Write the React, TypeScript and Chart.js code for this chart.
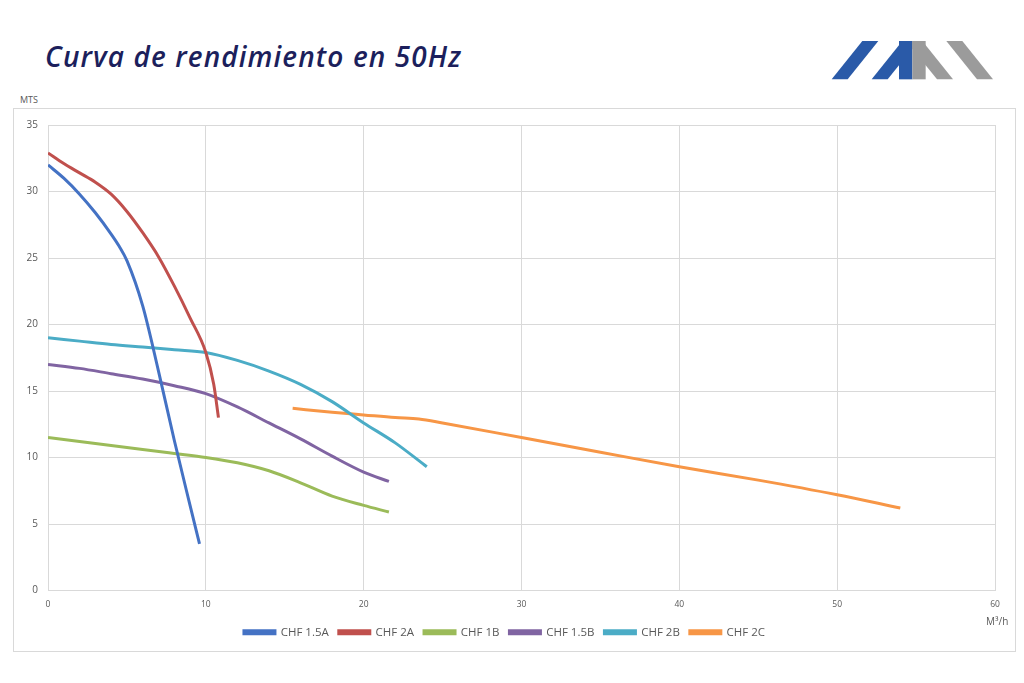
import { useEffect, useRef } from "react";
import { Chart, registerables } from "chart.js";

Chart.register(...registerables);

// caudal (m3/h) y altura (mts)
const series = ["CHF 1.5A", "CHF 2A", "CHF 1B", "CHF 1.5B", "CHF 2B", "CHF 2C"];
const colors = ["#4472C4", "#C0504D", "#9BBB59", "#8064A2", "#4BACC6", "#F79646"];

const flow15A = [0, 1, 2, 3, 4, 4.5, 5, 6, 7, 8, 9, 9.6];
const head15A = [32, 31, 29.8, 28.4, 26.8, 25.9, 24.8, 21.4, 16.5, 11.3, 6.4, 3.5];

const flow2A = [0, 1, 2, 3, 4, 5, 6, 7, 8, 9, 10, 10.5, 10.8];
const head2A = [32.9, 32.1, 31.4, 30.7, 29.8, 28.5, 26.9, 25.1, 22.9, 20.5, 17.9, 15.5, 13];

const flow1B = [0, 2, 4, 6, 8, 10, 12, 14, 16, 18, 20, 21.6];
const head1B = [11.5, 11.2, 10.9, 10.6, 10.3, 10, 9.6, 9, 8.1, 7.1, 6.4, 5.9];

const flow15B = [0, 2, 4, 6, 8, 10, 12, 14, 16, 18, 20, 21.6];
const head15B = [17, 16.7, 16.3, 15.9, 15.4, 14.8, 13.8, 12.6, 11.4, 10.1, 8.9, 8.2];

const flow2B = [0, 2, 4, 6, 8, 10, 12, 14, 16, 18, 20, 22, 24];
const head2B = [19, 18.75, 18.5, 18.3, 18.1, 17.9, 17.3, 16.5, 15.5, 14.2, 12.6, 11.1, 9.3];

const flow2C = [15.5, 18, 20, 22, 23.5, 25, 30, 35, 40, 45, 50, 54];
const head2C = [13.7, 13.4, 13.2, 13, 12.9, 12.6, 11.5, 10.4, 9.3, 8.3, 7.2, 6.2];

const flows = [flow15A, flow2A, flow1B, flow15B, flow2B, flow2C];
const heads = [head15A, head2A, head1B, head15B, head2B, head2C];

const xTicks = [0, 10, 20, 30, 40, 50, 60];
const yTicks = [0, 5, 10, 15, 20, 25, 30, 35];

const gridColor = "#d9d9d9";
const textColor = "#595959";

function PerformanceChart() {
  const canvasRef = useRef<HTMLCanvasElement>(null);
  const chartRef = useRef<Chart | null>(null);

  useEffect(() => {
    if (!canvasRef.current) return;
    if (chartRef.current) chartRef.current.destroy();

    chartRef.current = new Chart(canvasRef.current, {
      type: "line",
      data: {
        datasets: series.map((name, i) => ({
          label: name,
          data: flows[i].map((x, j) => ({ x, y: heads[i][j] })),
          borderColor: colors[i],
          backgroundColor: colors[i],
          borderWidth: 3,
          pointRadius: 0,
          cubicInterpolationMode: "monotone" as const,
          fill: false,
        })),
      },
      options: {
        animation: false,
        responsive: false,
        maintainAspectRatio: false,
        layout: { padding: { left: 0, right: 20, top: 15, bottom: 3 } },
        scales: {
          x: {
            type: "linear",
            min: 0,
            max: 60,
            afterBuildTicks: (axis) => {
              axis.ticks = xTicks.map((v) => ({ value: v }));
            },
            afterFit: (axis) => {
              axis.height = 26;
            },
            grid: { color: gridColor, tickLength: 0 },
            border: { color: gridColor },
            ticks: {
              color: textColor,
              padding: 9,
              font: { family: "'Open Sans', sans-serif", size: 8.5 },
            },
          },
          y: {
            min: 0,
            max: 35,
            afterBuildTicks: (axis) => {
              axis.ticks = yTicks.map((v) => ({ value: v }));
            },
            afterFit: (axis) => {
              axis.width = 34;
            },
            grid: { color: gridColor, tickLength: 0 },
            border: { color: gridColor },
            ticks: {
              color: textColor,
              padding: 10,
              font: { family: "'Open Sans', sans-serif", size: 10 },
            },
          },
        },
        plugins: {
          legend: {
            position: "bottom",
            labels: {
              boxWidth: 31,
              boxHeight: 3,
              padding: 10,
              color: textColor,
              font: { family: "'Open Sans', sans-serif", size: 11.5 },
            },
          },
          tooltip: { enabled: false },
        },
      },
    });

    return () => {
      if (chartRef.current) {
        chartRef.current.destroy();
        chartRef.current = null;
      }
    };
  }, []);

  return <canvas ref={canvasRef} width={1001} height={542} style={{ display: "block" }} />;
}

function Logo() {
  return (
    <svg
      width={175}
      height={48}
      viewBox="0 0 525 144"
      style={{ position: "absolute", left: 825, top: 36 }}
    >
      <polygon points="20,130 68,130 160,15 112,15" fill="#2A5AA8" />
      <polygon points="140,130 188,130 262,38 262,15 232,15" fill="#2A5AA8" />
      <rect x={222} y={15} width={40} height={115} fill="#2A5AA8" />
      <rect x={262} y={15} width={40} height={115} fill="#9B9B9B" />
      <polygon points="384,130 336,130 262,38 262,15 292,15" fill="#9B9B9B" />
      <polygon points="504,130 456,130 364,15 412,15" fill="#9B9B9B" />
    </svg>
  );
}

export default function App() {
  return (
    <div
      style={{
        position: "absolute",
        left: 0,
        top: 0,
        width: 1024,
        height: 683,
        background: "#ffffff",
        fontFamily: "'Open Sans', sans-serif",
        overflow: "hidden",
      }}
    >
      <div
        style={{
          position: "absolute",
          left: 45,
          top: 37,
          fontSize: 28,
          fontStyle: "italic",
          fontWeight: 600,
          color: "#1c1f5c",
          letterSpacing: 1.1,
          whiteSpace: "nowrap",
        }}
      >
        Curva de rendimiento en 50Hz
      </div>
      <Logo />
      <div style={{ position: "absolute", left: 20, top: 93, fontSize: 9, color: textColor }}>MTS</div>
      <div
        style={{
          position: "absolute",
          left: 13,
          top: 108,
          width: 1001,
          height: 542,
          border: "1px solid #d9d9d9",
        }}
      >
        <PerformanceChart />
        <div
          style={{
            position: "absolute",
            left: 972,
            top: 505,
            fontSize: 10,
            color: textColor,
          }}
        >
          M³/h
        </div>
      </div>
    </div>
  );
}
